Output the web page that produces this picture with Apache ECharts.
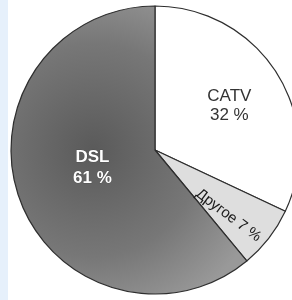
<!DOCTYPE html>
<html>
<head>
<meta charset="utf-8">
<script src="https://cdn.jsdelivr.net/npm/echarts@6/dist/echarts.min.js"></script>
<style>
  html, body { margin: 0; padding: 0; background: #fff; }
  #chart { width: 292px; height: 300px; }
</style>
</head>
<body>
<div id="chart"></div>
<script>
// данные диаграммы
const categories = ['CATV', 'Другое', 'DSL'];
const shares = [32, 7, 61];

// стиль каждого сектора
const sliceColors = [
  '#ffffff',
  '#dedede',
  {
    type: 'radial', x: 0.35, y: 0.5, r: 0.75,
    colorStops: [
      { offset: 0, color: '#5a5a5a' },
      { offset: 0.6, color: '#777777' },
      { offset: 1, color: '#999999' }
    ]
  }
];

// сдвиг подписей относительно стандартной позиции 'inside'
const labelShift = [[11, -4], [23, 7], [8, -8]];

const chart = echarts.init(document.getElementById('chart'));

chart.setOption({
  animation: false,
  backgroundColor: '#ffffff',
  graphic: [
    { type: 'rect', left: 0, top: 0, shape: { width: 8, height: 300 }, style: { fill: '#e6f0fb' }, z: 0 }
  ],
  series: [
    {
      type: 'pie',
      center: [155, 150],
      radius: 144,
      startAngle: 90,
      clockwise: true,
      silent: true,
      itemStyle: { borderColor: '#2e2e2e', borderWidth: 1.2 },
      label: {
        show: true,
        position: 'inside',
        fontFamily: 'Liberation Sans, Arial, sans-serif',
        fontSize: 17,
        lineHeight: 19,
        color: '#333',
        formatter: p => p.name + '\n' + p.value + ' %'
      },
      labelLayout: p => ({ dx: labelShift[p.dataIndex][0], dy: labelShift[p.dataIndex][1] }),
      data: categories.map((name, i) => {
        const item = { name: name, value: shares[i], itemStyle: { color: sliceColors[i] } };
        if (name === 'DSL') {
          item.label = { color: '#fff', fontWeight: 'bold', fontSize: 17, lineHeight: 21,
            textBorderColor: '#444', textBorderWidth: 0.5 };
        }
        if (name === 'Другое') {
          item.label = { rotate: -37, formatter: p => p.name + ' ' + p.value + ' %', color: '#1a1a1a', fontSize: 15 };
        }
        return item;
      })
    }
  ]
});
</script>
</body>
</html>
